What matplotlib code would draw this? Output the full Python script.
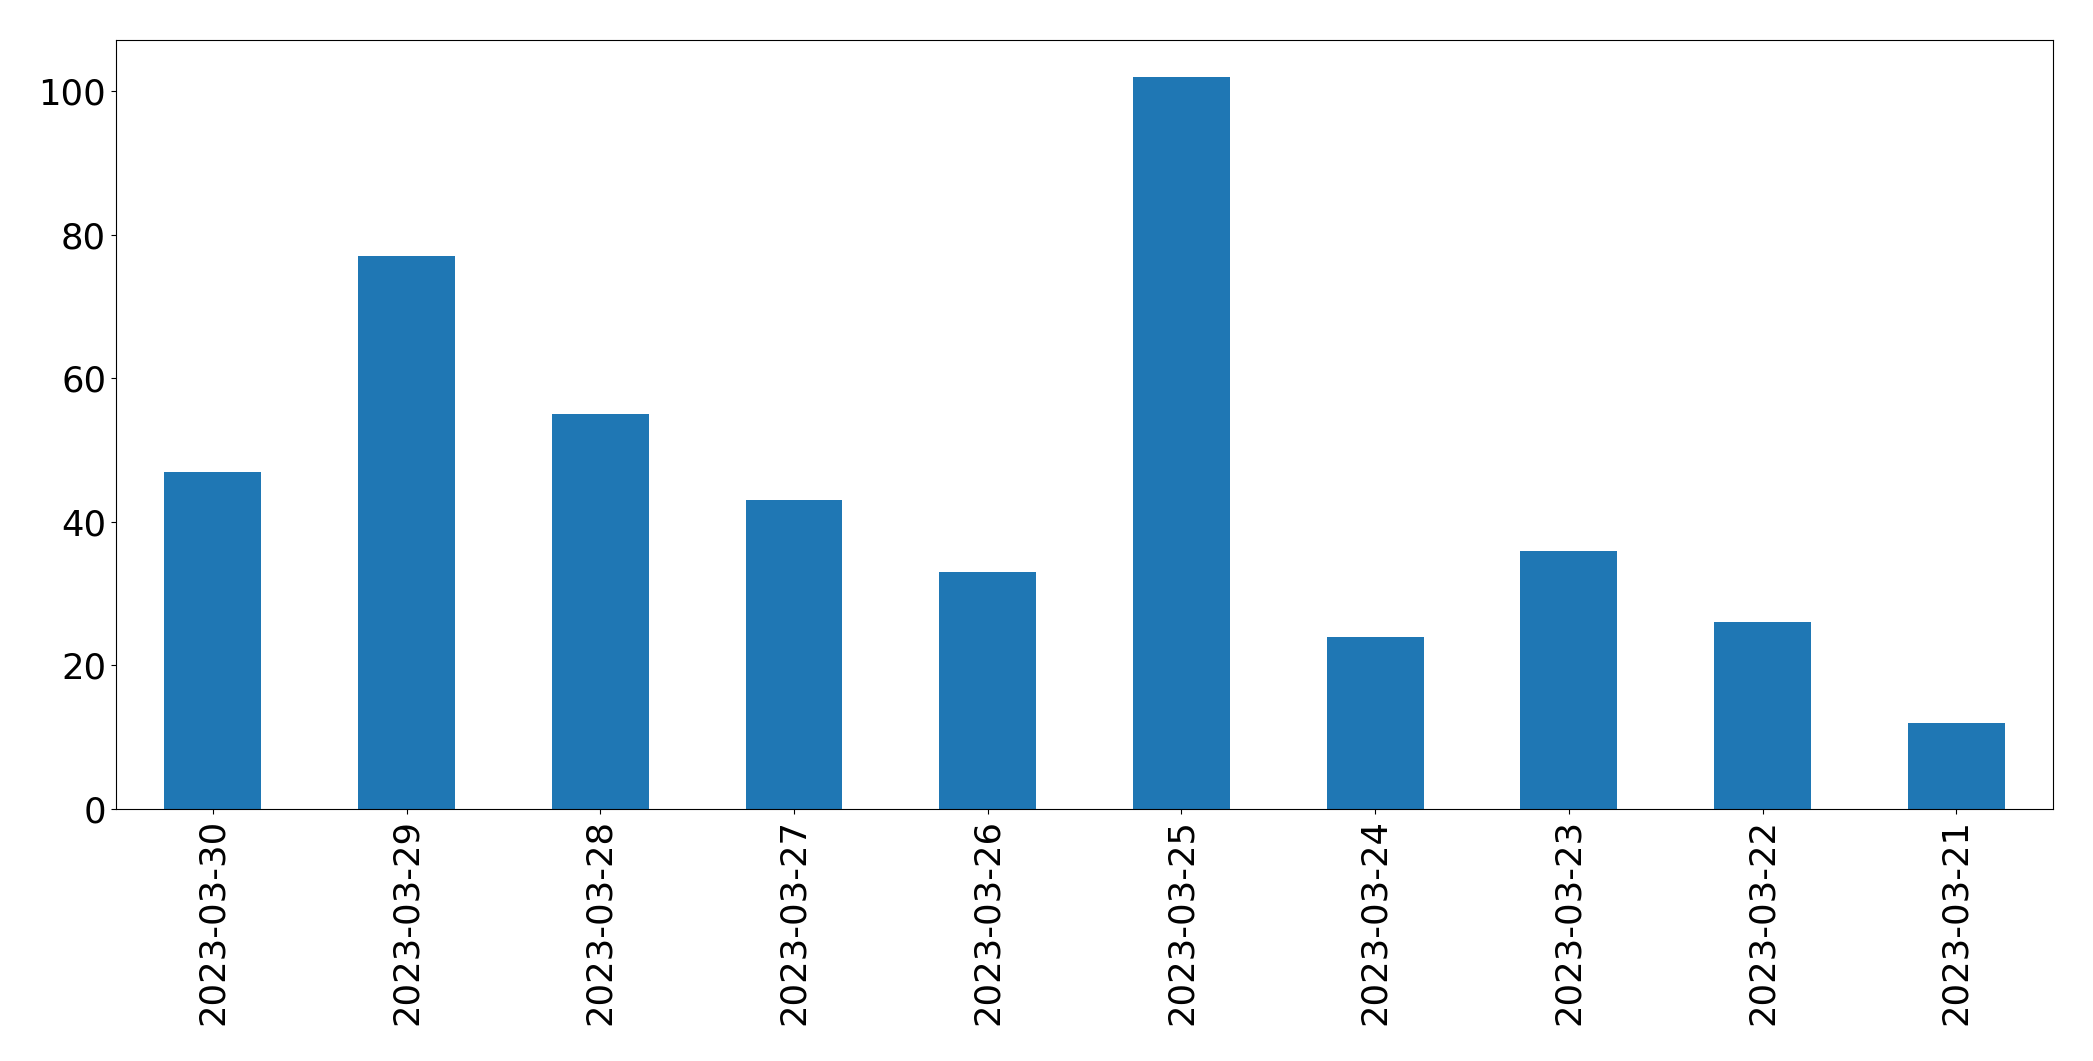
import pandas as pd
import matplotlib
matplotlib.use("Agg")
import matplotlib.pyplot as plt

# daily counts, newest first
dates = ["2023-03-30", "2023-03-29", "2023-03-28", "2023-03-27", "2023-03-26",
         "2023-03-25", "2023-03-24", "2023-03-23", "2023-03-22", "2023-03-21"]
counts = [47, 77, 55, 43, 33, 102, 24, 36, 26, 12]

s = pd.Series(counts, index=dates)

fig, ax = plt.subplots(figsize=(20.93, 10.61), dpi=100)
s.plot(kind="bar", ax=ax, color="#1f77b4", fontsize=25.5)
fig.subplots_adjust(left=0.0554, right=0.981, top=0.962, bottom=0.2375)
fig.savefig("out.png", dpi=100)
